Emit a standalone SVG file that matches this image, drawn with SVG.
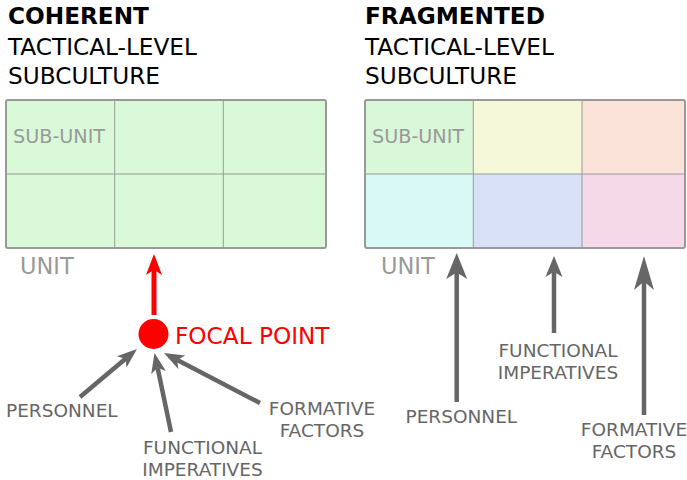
<svg xmlns="http://www.w3.org/2000/svg" xmlns:xlink="http://www.w3.org/1999/xlink" width="687" height="480" viewBox="0 0 687 480">
<style>
text{font-family:"DejaVu Sans","Liberation Sans",sans-serif}
.title{font-size:23.2px;fill:#000}
.bold{font-weight:bold}
.sub{font-size:19.2px;fill:#999}
.unit{font-size:22.5px;fill:#999}
.lbl{font-size:18.5px;fill:#666}
.frame{fill:none;stroke:#999;stroke-width:2}
.grid{stroke:#999;stroke-width:1;fill:none}
.shaft{stroke:#666;stroke-width:4.5;fill:none}
.red{stroke:#f00;stroke-width:5;fill:none}
</style>
<defs>
<path id="head" d="M0,0 L-7.5,20 L0,15 L7.5,20 Z"/>
</defs>
<g id="title-left">
<text class="title bold" x="8" y="24">COHERENT</text>
<text class="title" x="8" y="55">TACTICAL-LEVEL</text>
<text class="title" x="8" y="84">SUBCULTURE</text>
</g>
<g id="title-right">
<text class="title bold" x="365" y="24">FRAGMENTED</text>
<text class="title" x="365" y="55">TACTICAL-LEVEL</text>
<text class="title" x="365" y="84">SUBCULTURE</text>
</g>
<g id="unit-left">
<rect x="6" y="100" width="320" height="148" fill="#d9f9d9"/>
<path class="grid" d="M114.7,100 V248 M223.3,100 V248 M6,174 H326"/>
<rect class="frame" x="6" y="100" width="320" height="148" rx="2"/>
<text class="sub" x="13" y="143">SUB-UNIT</text>
<text class="unit" x="20" y="274">UNIT</text>
</g>
<g id="unit-right">
<rect x="365" y="100" width="108.3" height="74" fill="#d9f7d9"/>
<rect x="473.3" y="100" width="108.7" height="74" fill="#f5f9d9"/>
<rect x="582" y="100" width="103" height="74" fill="#fbe3d9"/>
<rect x="365" y="174" width="108.3" height="74" fill="#d9f9f7"/>
<rect x="473.3" y="174" width="108.7" height="74" fill="#d9e1f9"/>
<rect x="582" y="174" width="103" height="74" fill="#f5d9e9"/>
<path class="grid" d="M473.3,100 V248 M582,100 V248 M365,174 H685"/>
<rect class="frame" x="365" y="100" width="320" height="148" rx="2"/>
<text class="sub" x="372" y="143">SUB-UNIT</text>
<text class="unit" x="381" y="274">UNIT</text>
</g>
<g id="focal-point">
<circle cx="153.5" cy="334" r="15" fill="#f00"/>
<text x="175" y="344" style="font-size:23.2px;fill:#f00">FOCAL POINT</text>
</g>
<g id="labels-left">
<text class="lbl" x="6" y="417">PERSONNEL</text>
<text class="lbl" x="202.5" y="454" text-anchor="middle">FUNCTIONAL</text>
<text class="lbl" x="202.5" y="476" text-anchor="middle">IMPERATIVES</text>
<text class="lbl" x="322" y="415" text-anchor="middle">FORMATIVE</text>
<text class="lbl" x="322" y="437" text-anchor="middle">FACTORS</text>
</g>
<g id="labels-right">
<text class="lbl" x="405.5" y="423">PERSONNEL</text>
<text class="lbl" x="558" y="357" text-anchor="middle">FUNCTIONAL</text>
<text class="lbl" x="558" y="379" text-anchor="middle">IMPERATIVES</text>
<text class="lbl" x="634" y="436" text-anchor="middle">FORMATIVE</text>
<text class="lbl" x="634" y="458" text-anchor="middle">FACTORS</text>
</g>
<g id="connectors">
<line class="red" x1="154" y1="315" x2="154" y2="270"/>
<use xlink:href="#head" fill="#f00" transform="translate(154,254) scale(1.07,1.05)"/>
<line class="shaft" x1="80" y1="397" x2="125.5" y2="358.7"/>
<use xlink:href="#head" fill="#666" transform="translate(137,349) rotate(49.9)"/>
<line class="shaft" x1="171" y1="432" x2="157.6" y2="367.7"/>
<use xlink:href="#head" fill="#666" transform="translate(154.5,353) rotate(-11.8)"/>
<line class="shaft" x1="260" y1="403" x2="177.3" y2="359.9"/>
<use xlink:href="#head" fill="#666" transform="translate(164,353) rotate(-62.5)"/>
<line class="shaft" x1="456.7" y1="402" x2="456.7" y2="272"/>
<use xlink:href="#head" fill="#666" transform="translate(456.7,253) scale(1.4,1.3)"/>
<line class="shaft" x1="554" y1="333" x2="554" y2="271"/>
<use xlink:href="#head" fill="#666" transform="translate(554,256) scale(1.13,1.05)"/>
<line class="shaft" x1="644" y1="415" x2="644" y2="281"/>
<use xlink:href="#head" fill="#666" transform="translate(644,256) scale(1.33,1.7)"/>
</g>
</svg>
